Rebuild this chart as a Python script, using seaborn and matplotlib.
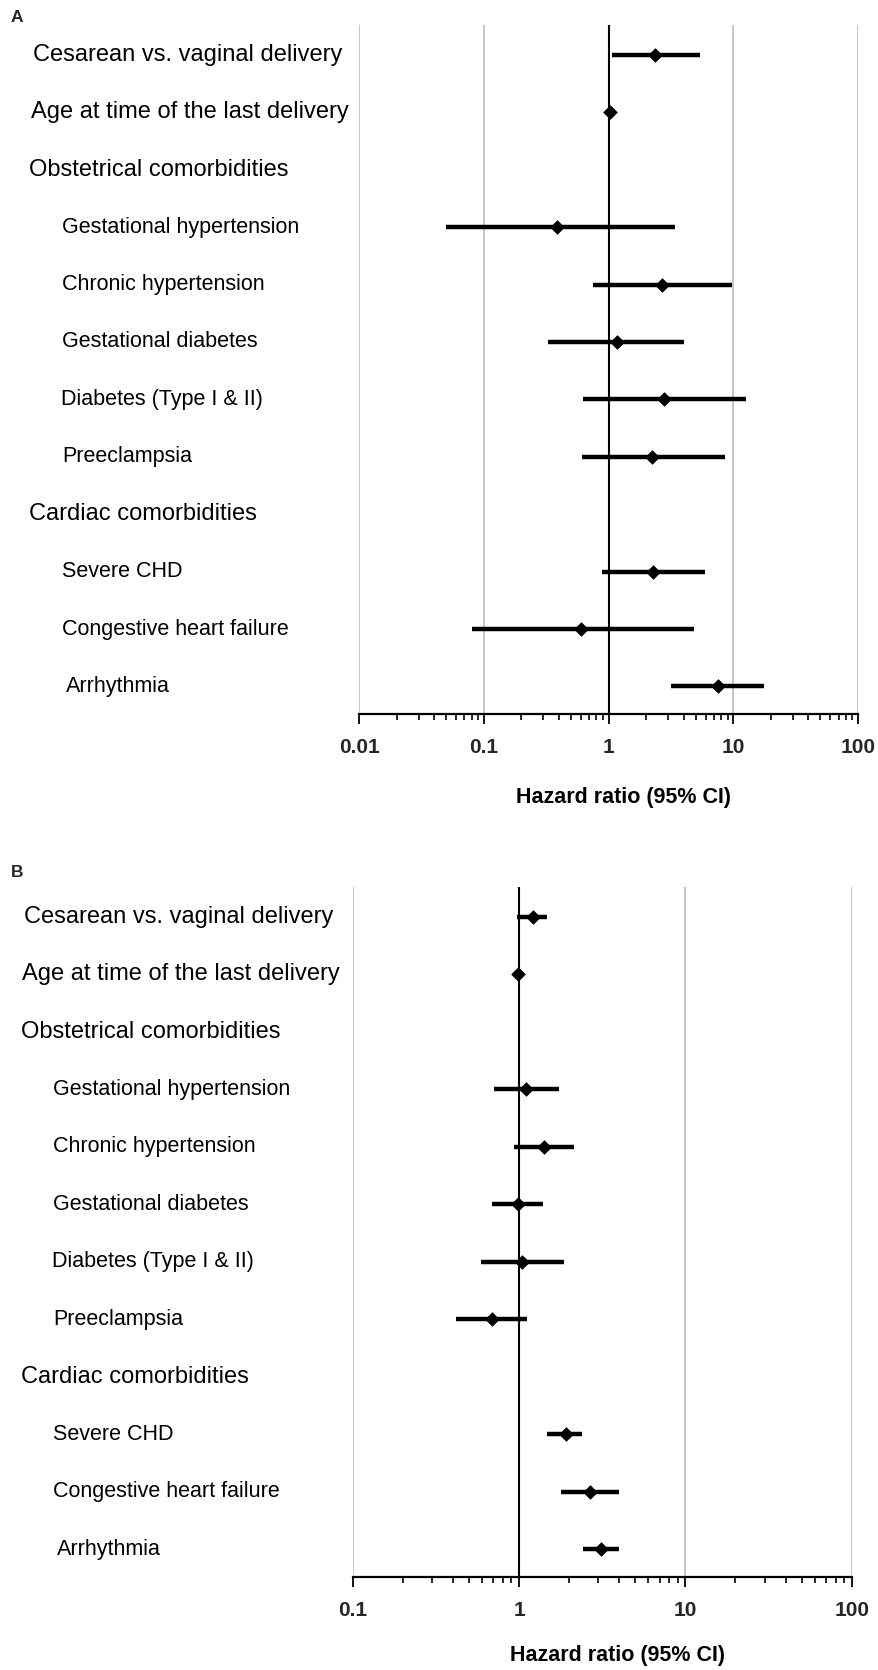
import numpy as np
import pandas as pd
import matplotlib
matplotlib.use("Agg")
import matplotlib.pyplot as plt
import matplotlib.transforms as mtrans
from matplotlib.ticker import LogLocator, NullFormatter
import seaborn as sns

nan = np.nan

# ---------------- data ----------------
labels = ["Cesarean vs. vaginal delivery", "Age at time of the last delivery",
          "Obstetrical comorbidities", "Gestational hypertension", "Chronic hypertension",
          "Gestational diabetes", "Diabetes (Type I & II)", "Preeclampsia",
          "Cardiac comorbidities", "Severe CHD", "Congestive heart failure", "Arrhythmia"]

a_hr = [2.35, 1.02, nan, 0.39, 2.66, 1.16, 2.78, 2.25, nan, 2.28, 0.60, 7.48]
a_lo = [1.06, 0.99, nan, 0.050, 0.75, 0.33, 0.63, 0.61, nan, 0.89, 0.080, 3.16]
a_hi = [5.4, 1.05, nan, 3.4, 9.7, 4.0, 12.6, 8.6, nan, 5.9, 4.86, 17.7]

b_hr = [1.21, 0.99, nan, 1.10, 1.42, 0.99, 1.04, 0.69, nan, 1.91, 2.67, 3.11]
b_lo = [0.97, 0.98, nan, 0.71, 0.93, 0.69, 0.59, 0.42, nan, 1.48, 1.78, 2.42]
b_hi = [1.47, 1.01, nan, 1.74, 2.15, 1.39, 1.86, 1.11, nan, 2.40, 4.01, 4.01]

a_ticks = [0.01, 0.1, 1, 10, 100]
a_ticklabels = ["0.01", "0.1", "1", "10", "100"]
b_ticks = [0.1, 1, 10, 100]
b_ticklabels = ["0.1", "1", "10", "100"]

xlabel = "Hazard ratio (95% CI)"

# ---------------- layout (pixels) ----------------
W, H = 879, 1670
header_rows = [0, 1, 2, 8]
a_label_x = [33, 31, 29, 62, 62, 62, 61, 62, 29, 62, 62, 66]
b_label_x = [24, 22, 21, 53, 53, 53, 52, 53, 21, 53, 53, 57]

sns.set_theme(style="white")
plt.rcParams["font.family"] = ["Liberation Sans", "DejaVu Sans"]

fig = plt.figure(figsize=(W / 100, H / 100), dpi=100)


def px_axes(left, top, right, bottom):
    return fig.add_axes([left / W, 1 - bottom / H, (right - left) / W, (bottom - top) / H])


def panel(ax, hr, lo, hi, ticks, ticklabels, xlim, label_x, xlab_pos):
    rows = np.arange(len(labels))
    df = pd.DataFrame({"row": rows, "hr": hr, "lo": lo, "hi": hi}).dropna()
    long = pd.concat([
        pd.DataFrame({"row": df["row"], "x": df["lo"], "y": df["row"]}),
        pd.DataFrame({"row": df["row"], "x": df["hi"], "y": df["row"]}),
    ])
    ax.set_xscale("log")
    ax.grid(axis="x", which="major", color="#c2c2c2", lw=1.3, zorder=0)
    ax.set_axisbelow(True)
    ax.axvline(1, color="black", lw=1.5, zorder=1)
    sns.lineplot(data=long, x="x", y="y", units="row", estimator=None, sort=True,
                 color="black", lw=3.2, legend=False, ax=ax, zorder=3,
                 solid_capstyle="butt")
    sns.scatterplot(data=df, x="hr", y="row", marker="D", s=48, color="black",
                    edgecolor="black", linewidth=0.5, legend=False, ax=ax, zorder=4)
    ax.set_xlim(*xlim)
    ax.set_ylim(11.48, -0.52)
    ax.set_xticks(ticks, labels=ticklabels)
    ax.xaxis.set_minor_locator(LogLocator(base=10, subs=np.arange(2, 10)))
    ax.xaxis.set_minor_formatter(NullFormatter())
    ax.tick_params(axis="x", which="major", direction="out", length=7, width=1.3,
                   color="black", labelsize=15, pad=10, bottom=True)
    ax.tick_params(axis="x", which="minor", direction="out", length=4.5, width=1.2,
                   color="black", bottom=True)
    for t in ax.get_xticklabels():
        t.set_fontweight("bold")
    ax.set_yticks([])
    ax.set_ylabel("")
    for s in ["left", "top", "right"]:
        ax.spines[s].set_visible(False)
    ax.spines["bottom"].set_color("black")
    ax.spines["bottom"].set_linewidth(1.6)
    ax.set_xlabel(xlabel, fontsize=15.5, fontweight="bold", color="black")
    ax.xaxis.label.set_va("center")
    ax.xaxis.set_label_coords(*xlab_pos)
    tr = mtrans.blended_transform_factory(fig.transFigure, ax.transData)
    for i, lab in enumerate(labels):
        fs = 17 if i in header_rows else 15.5
        ax.text(label_x[i] / W, i, lab, transform=tr, ha="left", va="center",
                fontsize=fs, color="black")


axA = px_axes(359, 25, 858, 714)
panel(axA, a_hr, a_lo, a_hi, a_ticks, a_ticklabels, (0.01, 100), a_label_x,
      ((624 - 359) / 499, (714 - 798) / 689))

axB = px_axes(352.7, 886.7, 851.7, 1577)
panel(axB, b_hr, b_lo, b_hi, b_ticks, b_ticklabels, (0.1, 100), b_label_x,
      ((617 - 352.7) / 499, (1577 - 1655) / 690.3))

fig.text(11 / W, 1 - 18 / H, "A", fontsize=12.5, fontweight="bold", ha="left", va="center")
fig.text(11 / W, 1 - 872.5 / H, "B", fontsize=12.5, fontweight="bold", ha="left", va="center")

fig.savefig("out.png", dpi=100, facecolor="white")
